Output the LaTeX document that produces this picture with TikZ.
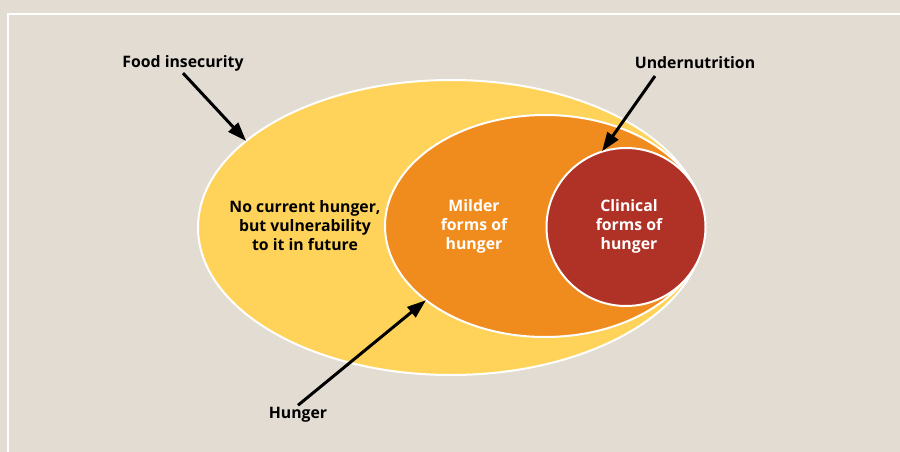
\documentclass[tikz,border=0pt]{standalone}
\usepackage{fontspec}
\setmainfont{Open Sans}
\usetikzlibrary{arrows.meta,shapes.geometric}
\definecolor{bgc}{RGB}{226,220,211}
\definecolor{yel}{RGB}{255,211,90}
\definecolor{ora}{RGB}{240,140,30}
\definecolor{redc}{RGB}{176,50,38}
\tikzset{
  zone/.style={ellipse, draw=white, line width=2pt, inner sep=0pt},
  lbl/.style={font=\bfseries\fontsize{15.8}{19}\selectfont, align=center, inner sep=2pt},
  pointer/.style={line width=3pt, -{Triangle[length=19pt,width=13pt]}, shorten >=-1pt}
}
\begin{document}
\begin{tikzpicture}[x=1pt,y=-1pt]
\useasboundingbox (0,0) rectangle (900,452);
\fill[bgc] (0,0) rectangle (900,452);
\draw[white, line width=2.5pt] (8,452) -- (8,14) -- (900,14);

\node[zone, fill=yel, minimum width=506pt, minimum height=295pt] (fi) at (451,227.5) {};
\node[zone, fill=ora, minimum width=320pt, minimum height=222pt] (mh) at (545,226) {};
\node[zone, fill=redc, minimum width=159pt, minimum height=158pt] (ch) at (626,227) {};

\node[lbl] (t1) at (305,226) {No current hunger,\\but vulnerability\\to it in future};
\node[lbl, text=white] (t2) at (474,226) {Milder\\forms of\\hunger};
\node[lbl, text=white] (t3) at (629,226) {Clinical\\forms of\\hunger};

\node[lbl] (fl) at (183,63) {Food insecurity};
\node[lbl] (ul) at (695,63) {Undernutrition};
\node[lbl] (hl) at (298,415) {Hunger};

\coordinate (us) at (655,76);
\draw[pointer] (fl.south) -- (fi.157);
\draw[pointer] (us) -- (ch.107);
\draw[pointer] (hl.north) -- (mh.212);
\end{tikzpicture}
\end{document}
